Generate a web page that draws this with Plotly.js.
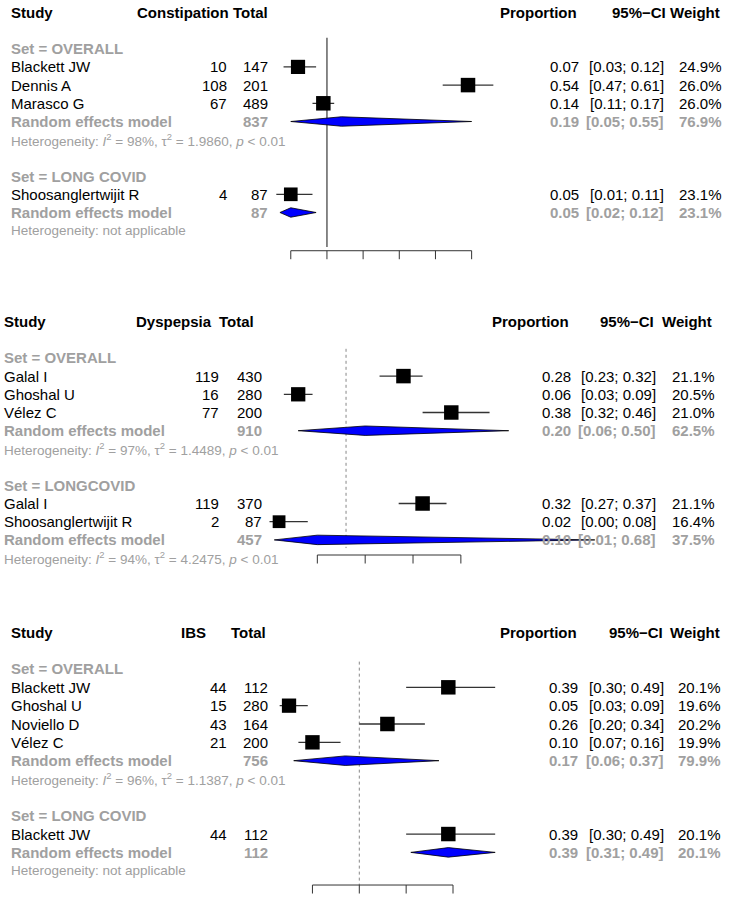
<!DOCTYPE html>
<html>
<head>
<meta charset="utf-8">
<script src="https://cdn.plot.ly/plotly-3.0.1.min.js"></script>
<style>
  html, body { margin: 0; padding: 0; background: #fff; }
  #chart { width: 729px; height: 899px; }
</style>
</head>
<body>
<div id="chart"></div>
<script>
// ---- Constipation ----
const conStudy = ['Blackett JW', 'Dennis A', 'Marasco G', 'Shoosanglertwijit R'];
const conSet = ['OVERALL', 'OVERALL', 'OVERALL', 'LONG COVID'];
const conEvents = [10, 108, 67, 4];
const conTotal = [147, 201, 489, 87];
const conProp = [0.07, 0.54, 0.14, 0.05];
const conLower = [0.03, 0.47, 0.11, 0.01];
const conUpper = [0.12, 0.61, 0.17, 0.11];
const conWeight = [24.9, 26.0, 26.0, 23.1];
const conSets = ['OVERALL', 'LONG COVID'];
const conPoolTotal = [837, 87];
const conPoolProp = [0.19, 0.05];
const conPoolLower = [0.05, 0.02];
const conPoolUpper = [0.55, 0.12];
const conPoolWeight = [76.9, 23.1];
const conI2 = [98, null];
const conTau2 = ['1.9860', null];
const conPval = ['< 0.01', null];
const conTicks = [0.05, 0.15, 0.25, 0.35, 0.45, 0.55];
const conRef = 0.15;

// ---- Dyspepsia ----
const dysStudy = ['Galal I', 'Ghoshal U', 'Vélez C', 'Galal I', 'Shoosanglertwijit R'];
const dysSet = ['OVERALL', 'OVERALL', 'OVERALL', 'LONGCOVID', 'LONGCOVID'];
const dysEvents = [119, 16, 77, 119, 2];
const dysTotal = [430, 280, 200, 370, 87];
const dysProp = [0.28, 0.06, 0.38, 0.32, 0.02];
const dysLower = [0.23, 0.03, 0.32, 0.27, 0.00];
const dysUpper = [0.32, 0.09, 0.46, 0.37, 0.08];
const dysWeight = [21.1, 20.5, 21.0, 21.1, 16.4];
const dysSets = ['OVERALL', 'LONGCOVID'];
const dysPoolTotal = [910, 457];
const dysPoolProp = [0.20, 0.10];
const dysPoolLower = [0.06, 0.01];
const dysPoolUpper = [0.50, 0.68];
const dysPoolWeight = [62.5, 37.5];
const dysI2 = [97, 94];
const dysTau2 = ['1.4489', '4.2475'];
const dysPval = ['< 0.01', '< 0.01'];
const dysTicks = [0.1, 0.2, 0.3, 0.4];
const dysRef = 0.16;

// ---- IBS ----
const ibsStudy = ['Blackett JW', 'Ghoshal U', 'Noviello D', 'Vélez C', 'Blackett JW'];
const ibsSet = ['OVERALL', 'OVERALL', 'OVERALL', 'OVERALL', 'LONG COVID'];
const ibsEvents = [44, 15, 43, 21, 44];
const ibsTotal = [112, 280, 164, 200, 112];
const ibsProp = [0.39, 0.05, 0.26, 0.10, 0.39];
const ibsLower = [0.30, 0.03, 0.20, 0.07, 0.30];
const ibsUpper = [0.49, 0.09, 0.34, 0.16, 0.49];
const ibsWeight = [20.1, 19.6, 20.2, 19.9, 20.1];
const ibsSets = ['OVERALL', 'LONG COVID'];
const ibsPoolTotal = [756, 112];
const ibsPoolProp = [0.17, 0.39];
const ibsPoolLower = [0.06, 0.31];
const ibsPoolUpper = [0.37, 0.49];
const ibsPoolWeight = [79.9, 20.1];
const ibsI2 = [96, null];
const ibsTau2 = ['1.1387', null];
const ibsPval = ['< 0.01', null];
const ibsTicks = [0.1, 0.2, 0.3, 0.4];
const ibsRef = 0.2;

const W = 729, H = 899;
const FONT = 'Liberation Sans, Arial, Helvetica, sans-serif';
const GREY = '#a0a0a0';
const PXL = 240, PXR = 640;   // horizontal extent of each forest area (px)

// x0/xs: pixel = x0 + xs * proportion ; y0/ys: pixel = y0 + ys * row
const panels = [
    {
        label: 'Constipation',
        study: conStudy, set: conSet, events: conEvents, total: conTotal,
        prop: conProp, lower: conLower, upper: conUpper, weight: conWeight,
        sets: conSets, poolTotal: conPoolTotal, poolProp: conPoolProp,
        poolLower: conPoolLower, poolUpper: conPoolUpper, poolWeight: conPoolWeight,
        i2: conI2, tau2: conTau2, pval: conPval, ticks: conTicks, ref: conRef,
        x0: 272.7, xs: 361.7, y0: 12.3, ys: 18.2,
        axisRow: 13.1, refFrom: 1.4, refTo: 12.9, refDash: 'solid', refColor: '#555', refWidth: 1.4,
        col: { study: 9, events: 229, total: 270, prop: 581, ci: 666, weight: 724,
               hEvents: 231, hTotal: 270, hProp: 579, hCi: 668, hWeight: 722 }
    },
    {
        label: 'Dyspepsia',
        study: dysStudy, set: dysSet, events: dysEvents, total: dysTotal,
        prop: dysProp, lower: dysLower, upper: dysUpper, weight: dysWeight,
        sets: dysSets, poolTotal: dysPoolTotal, poolProp: dysPoolProp,
        poolLower: dysPoolLower, poolUpper: dysPoolUpper, poolWeight: dysPoolWeight,
        i2: dysI2, tau2: dysTau2, pval: dysPval, ticks: dysTicks, ref: dysRef,
        x0: 269.5, xs: 478.4, y0: 321.5, ys: 18.2,
        axisRow: 12.83, refFrom: 1.5, refTo: 12.45, refDash: 'dot', refColor: '#888', refWidth: 1,
        note: { text: '1', x: 205, row: -0.72 },
        col: { study: 2.3, events: 221, total: 264, prop: 573, ci: 658, weight: 717,
               hEvents: 214, hTotal: 256, hProp: 571, hCi: 656, hWeight: 714 }
    },
    {
        label: 'IBS',
        study: ibsStudy, set: ibsSet, events: ibsEvents, total: ibsTotal,
        prop: ibsProp, lower: ibsLower, upper: ibsUpper, weight: ibsWeight,
        sets: ibsSets, poolTotal: ibsPoolTotal, poolProp: ibsPoolProp,
        poolLower: ibsPoolLower, poolUpper: ibsPoolUpper, poolWeight: ibsPoolWeight,
        i2: ibsI2, tau2: ibsTau2, pval: ibsPval, ticks: ibsTicks, ref: ibsRef,
        x0: 265.6, xs: 468.5, y0: 632.3, ys: 18.34,
        axisRow: 13.78, refFrom: 1.6, refTo: 13.78, refDash: 'dot', refColor: '#888', refWidth: 1,
        col: { study: 9, events: 229, total: 270, prop: 580, ci: 666, weight: 723,
               hEvents: 208, hTotal: 268, hProp: 579, hCi: 665, hWeight: 722 }
    }
];

const traces = [];
const annotations = [];
const shapes = [];
const layout = {
    width: W, height: H,
    margin: { l: 0, r: 0, t: 0, b: 0 },
    paper_bgcolor: '#fff',
    plot_bgcolor: 'rgba(0,0,0,0)',
    showlegend: false
};

function fmtCI(lo, hi) {
    return '[' + lo.toFixed(2) + '; ' + hi.toFixed(2) + ']';
}

panels.forEach((p, k) => {
    const sfx = k === 0 ? '' : String(k + 1);
    const xa = 'x' + sfx, ya = 'y' + sfx;
    const c = p.col;

    const txt = (x, row, text, opts) => {
        const o = opts || {};
        annotations.push({
            xref: 'paper', yref: ya, x: x / W, y: row, text: text,
            showarrow: false, xanchor: o.anchor || 'right', yanchor: 'middle',
            font: { family: FONT, size: o.size || 15, color: o.color || '#000' }
        });
    };

    // header row
    txt(c.study, 0, '<b>Study</b>', { anchor: 'left' });
    txt(c.hEvents, 0, '<b>' + p.label + '</b>');
    txt(c.hTotal, 0, '<b>Total</b>');
    txt(c.hProp, 0, '<b>Proportion</b>');
    txt(c.hCi, 0, '<b>95%\u2212CI</b>');
    txt(c.hWeight, 0, '<b>Weight</b>');
    if (p.note) txt(p.note.x, p.note.row, p.note.text, { anchor: 'center', size: 8 });

    const wmax = Math.max(...p.weight);
    const sqX = [], sqY = [], sqS = [];
    const ciX = [], ciY = [];
    let row = 0;

    p.sets.forEach((s, j) => {
        row += 2;
        txt(c.study, row, '<b>Set = ' + s + '</b>', { anchor: 'left', color: GREY });

        p.study.forEach((name, i) => {
            if (p.set[i] !== s) return;
            row += 1;
            txt(c.study, row, name, { anchor: 'left' });
            txt(c.events, row, String(p.events[i]));
            txt(c.total, row, String(p.total[i]));
            txt(c.prop, row, p.prop[i].toFixed(2));
            txt(c.ci, row, fmtCI(p.lower[i], p.upper[i]));
            txt(c.weight, row, p.weight[i].toFixed(1) + '%');
            sqX.push(p.prop[i]);
            sqY.push(row);
            sqS.push(14.5 * Math.sqrt(p.weight[i] / wmax));
            ciX.push(p.lower[i], p.upper[i], null);
            ciY.push(row, row, null);
        });

        // pooled estimate
        row += 1;
        const g = { color: GREY };
        txt(c.study, row, '<b>Random effects model</b>', { anchor: 'left', color: GREY });
        txt(c.total, row, '<b>' + p.poolTotal[j] + '</b>', g);
        txt(c.prop, row, '<b>' + p.poolProp[j].toFixed(2) + '</b>', g);
        txt(c.ci, row, '<b>' + fmtCI(p.poolLower[j], p.poolUpper[j]) + '</b>', g);
        txt(c.weight, row, '<b>' + p.poolWeight[j].toFixed(1) + '%</b>', g);
        const h = 0.26;
        traces.push({
            x: [p.poolLower[j], p.poolProp[j], p.poolUpper[j], p.poolProp[j], p.poolLower[j]],
            y: [row, row - h, row, row + h, row],
            xaxis: xa, yaxis: ya,
            type: 'scatter', mode: 'lines', fill: 'toself',
            fillcolor: '#0000ff',
            line: { color: '#000', width: 0.8 },
            hoverinfo: 'skip'
        });

        // heterogeneity
        row += 1;
        const het = p.i2[j] === null
            ? 'Heterogeneity: not applicable'
            : 'Heterogeneity: <i>I</i><sup>2</sup> = ' + p.i2[j] + '%, \u03c4<sup>2</sup> = ' +
              p.tau2[j] + ', <i>p</i> ' + p.pval[j].replace('<', '&lt;');
        txt(c.study, row, het, { anchor: 'left', color: GREY, size: 13.5 });
    });

    traces.push({
        x: ciX, y: ciY, xaxis: xa, yaxis: ya,
        type: 'scatter', mode: 'lines',
        line: { color: '#333', width: 1.3 },
        hoverinfo: 'skip'
    });
    traces.push({
        x: sqX, y: sqY, xaxis: xa, yaxis: ya,
        type: 'scatter', mode: 'markers', cliponaxis: false,
        marker: { symbol: 'square', size: sqS, color: '#000', opacity: 1, line: { width: 0 } },
        hoverinfo: 'skip'
    });

    // reference line
    shapes.push({
        type: 'line', xref: xa, yref: ya, layer: 'below',
        x0: p.ref, x1: p.ref, y0: p.refFrom, y1: p.refTo,
        line: { color: p.refColor, width: p.refWidth, dash: p.refDash }
    });
    // bracket-style x axis
    const tickLen = 8.5 / p.ys;
    const axLine = { color: '#333', width: 1 };
    shapes.push({
        type: 'line', xref: xa, yref: ya,
        x0: p.ticks[0], x1: p.ticks[p.ticks.length - 1], y0: p.axisRow, y1: p.axisRow,
        line: axLine
    });
    p.ticks.forEach(t => shapes.push({
        type: 'line', xref: xa, yref: ya,
        x0: t, x1: t, y0: p.axisRow, y1: p.axisRow + tickLen,
        line: axLine
    }));

    const rTop = -0.5, rBot = 14.5;
    layout['xaxis' + sfx] = {
        domain: [PXL / W, PXR / W],
        range: [(PXL - p.x0) / p.xs, (PXR - p.x0) / p.xs],
        visible: false, anchor: ya, fixedrange: true
    };
    layout['yaxis' + sfx] = {
        domain: [1 - (p.y0 + p.ys * rBot) / H, 1 - (p.y0 + p.ys * rTop) / H],
        range: [rBot, rTop],
        visible: false, anchor: xa, fixedrange: true
    };
});

layout.annotations = annotations;
layout.shapes = shapes;

Plotly.newPlot('chart', traces, layout, { displayModeBar: false, staticPlot: true });
</script>
</body>
</html>
